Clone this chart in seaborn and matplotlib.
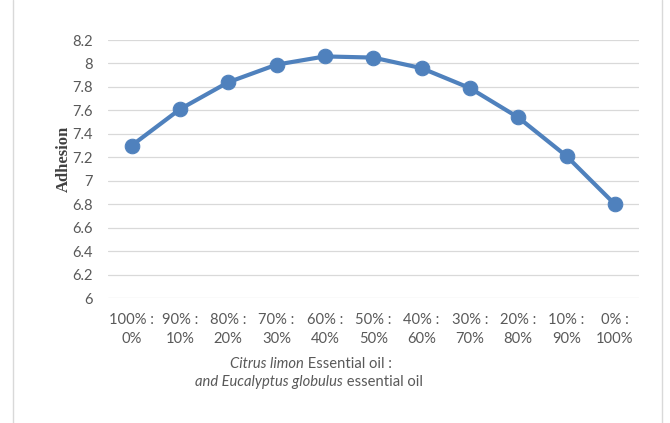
import matplotlib
matplotlib.use("Agg")
import matplotlib.pyplot as plt
import seaborn as sns
import pandas as pd

# Blend ratios (Citrus limon : Eucalyptus globulus) and measured adhesion
citrus_pct = ["100%", "90%", "80%", "70%", "60%", "50%", "40%", "30%", "20%", "10%", "0%"]
eucalyptus_pct = ["0%", "10%", "20%", "30%", "40%", "50%", "60%", "70%", "80%", "90%", "100%"]
adhesion = [7.30, 7.61, 7.84, 7.99, 8.06, 8.05, 7.96, 7.79, 7.54, 7.21, 6.80]
y_ticks = [6, 6.2, 6.4, 6.6, 6.8, 7, 7.2, 7.4, 7.6, 7.8, 8, 8.2]

tick_labels = [f"{c} :\n{e}" for c, e in zip(citrus_pct, eucalyptus_pct)]
df = pd.DataFrame({"pos": range(len(adhesion)), "adhesion": adhesion})

sns.set_theme(style="white")
plt.rcParams["font.family"] = ["Lato", "DejaVu Sans"]

W, H = 670, 423
fig = plt.figure(figsize=(W / 100, H / 100), dpi=100)
ax = fig.add_axes([107.5 / W, 1 - 298 / H, (639 - 107.5) / W, (298 - 40) / H])

line_color = "#4F81BD"
sns.lineplot(data=df, x="pos", y="adhesion", ax=ax, color=line_color,
             linewidth=3.0, marker="o", markersize=10.5,
             markeredgecolor=line_color, markerfacecolor=line_color)

ax.set_xlim(-0.5, len(adhesion) - 0.5)
ax.set_ylim(6, 8.2)
ax.set_yticks(y_ticks)
ax.set_yticklabels([f"{v:g}" for v in y_ticks])
ax.set_xticks(range(len(adhesion)))
ax.set_xticklabels(tick_labels, linespacing=1.4)
ax.tick_params(axis="both", length=0, labelsize=10.6, labelcolor="#595959")
ax.tick_params(axis="y", pad=10.8)
ax.tick_params(axis="x", pad=11)

ax.grid(axis="y", color="#D9D9D9", linewidth=0.9)
ax.grid(axis="x", visible=False)
ax.set_axisbelow(True)
for s in ax.spines.values():
    s.set_visible(False)
ax.set_xlabel("")
ax.set_ylabel("")

fig.text(64 / W, 1 - 159 / H, "Adhesion", rotation=90, ha="center", va="center",
         family=["Liberation Serif"], fontweight="bold", fontsize=12, color="#404040")

# Axis title with italic species names
fig.canvas.draw()
renderer = fig.canvas.get_renderer()


def mixed_line(parts, xc, y, size=10.6, color="#595959"):
    texts = []
    for s, style in parts:
        t = fig.text(0, y, s, fontsize=size, style=style, color=color,
                     ha="left", va="center")
        texts.append(t)
    widths = [t.get_window_extent(renderer).width for t in texts]
    total = sum(widths)
    x = xc * fig.bbox.width - total / 2
    for t, w in zip(texts, widths):
        t.set_x(x / fig.bbox.width)
        x += w


mixed_line([("Citrus limon", "italic"), (" Essential oil :", "normal")],
           311 / W, 1 - 364 / H)
mixed_line([("and Eucalyptus globulus", "italic"), (" essential oil", "normal")],
           309 / W, 1 - 382 / H)

# Chart frame edges
for xf in (13 / W, 662 / W):
    fig.add_artist(plt.Line2D([xf, xf], [0, 1], transform=fig.transFigure,
                              color="#D9D9D9", linewidth=1.0))

fig.savefig("out.png", dpi=100, facecolor="white")
